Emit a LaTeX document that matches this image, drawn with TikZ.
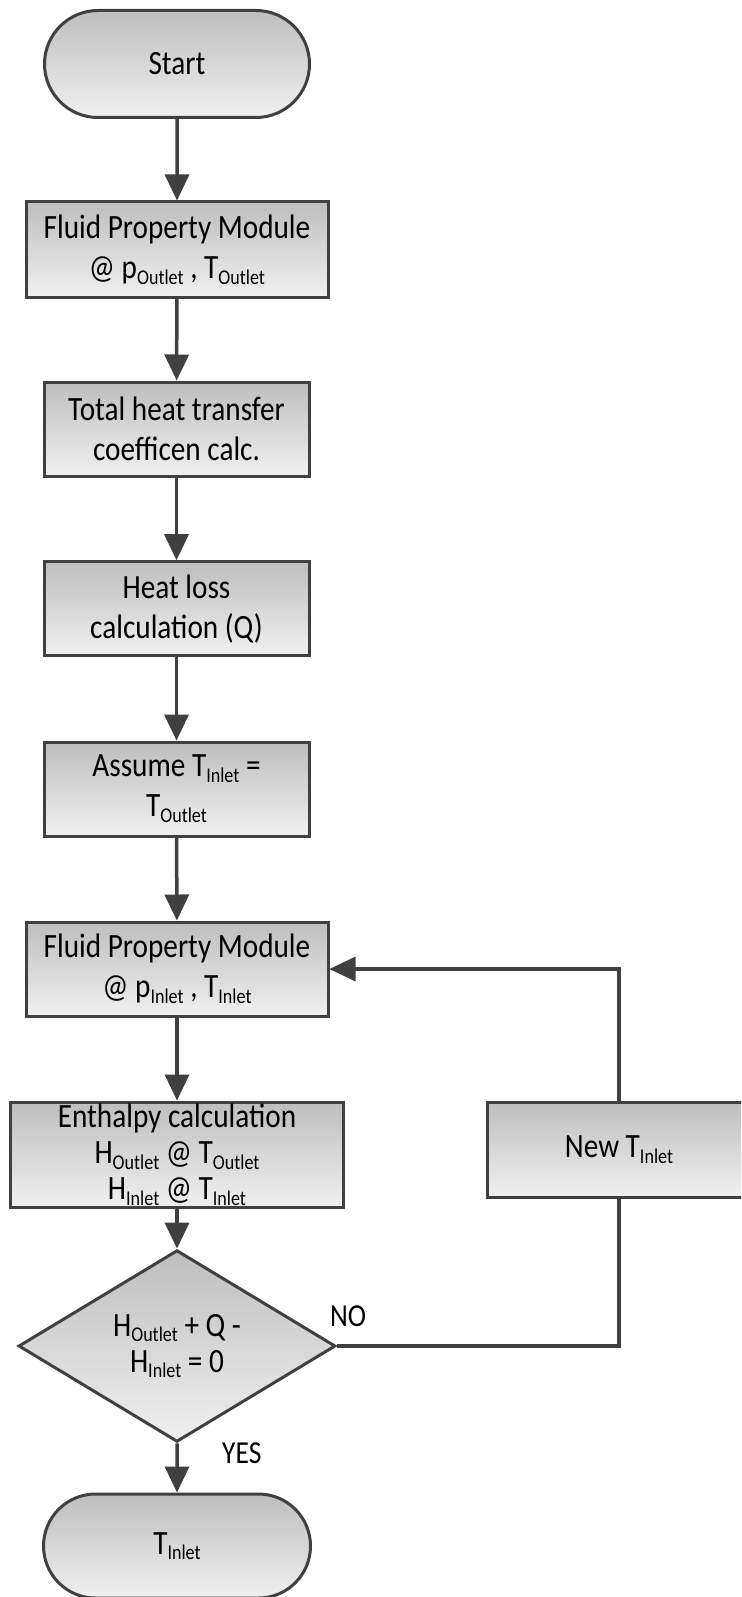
\documentclass[tikz,border=0pt]{standalone}
\usepackage{fontspec}
\setmainfont{Carlito}[FakeStretch=0.86]
\usetikzlibrary{arrows.meta,shapes.geometric,shapes.misc}
\definecolor{edgec}{HTML}{404040}
\definecolor{topg}{HTML}{BEBEBE}
\definecolor{botg}{HTML}{F0F0F0}
\newcommand{\sbx}[1]{\raisebox{-0.35ex}{\fontsize{21}{21}\selectfont #1}}
\tikzset{
  box/.style={draw=edgec, line width=3pt, top color=topg, bottom color=botg,
    align=center, inner sep=0pt, font=\fontsize{34}{40}\selectfont},
  term/.style={box, rounded rectangle},
  decision/.style={box, diamond},
  txt/.style={inner sep=0pt, font=\fontsize{34}{40}\selectfont},
  conn/.style={draw=edgec, line width=3.5pt, -{Triangle[length=26pt,width=24pt]}},
  plain/.style={draw=edgec, line width=3.5pt},
  lbl/.style={font=\fontsize{32}{36}\selectfont, inner sep=0pt}
}
\begin{document}
\begin{tikzpicture}[x=1pt,y=-1pt]
\useasboundingbox (0,0) rectangle (741,1597);
\clip (0,0) rectangle (741,1597);
\fill[white] (0,0) rectangle (741,1597);
\node[term, minimum width=265pt, minimum height=107pt] (start) at (177,64) {Start};
\node[box, minimum width=302pt, minimum height=95pt] (b1) at (177,249.5) {Fluid Property Module\\@ p\sbx{Outlet} , T\sbx{Outlet}};
\node[box, minimum width=265pt, minimum height=94pt] (b2) at (176.5,429) {Total heat transfer\\coefficen calc.};
\node[box, minimum width=265pt, minimum height=94pt] (b3) at (176.5,608.7) {Heat loss\\calculation (Q)};
\node[box, minimum width=265pt, minimum height=94pt] (b4) at (176.5,789) {Assume T\sbx{Inlet} =\\T\sbx{Outlet}};
\node[box, minimum width=302pt, minimum height=94pt] (b5) at (177,969) {Fluid Property Module\\@ p\sbx{Inlet} , T\sbx{Inlet}};
\node[box, minimum width=333pt, minimum height=105pt, font=\fontsize{34}{36}\selectfont] (b6) at (177,1154.5) {Enthalpy calculation\\H\sbx{Outlet} @ T\sbx{Outlet}\\H\sbx{Inlet} @ T\sbx{Inlet}};
\node[box, minimum width=330pt, minimum height=95pt] (newt) at (652,1149.5) {};
\coordinate (loop) at (619,1149.5);
\node[txt] (newttxt) at (loop) {New T\sbx{Inlet}};
\node[decision, minimum width=317pt, minimum height=190pt, font=\fontsize{34}{36}\selectfont] (dec) at (177,1346) {H\sbx{Outlet} + Q -\\H\sbx{Inlet} = 0};
\node[term, minimum width=267pt, minimum height=104pt] (end) at (177,1546) {T\sbx{Inlet}};
\node[lbl, anchor=west] (no) at (330,1316) {NO};
\node[lbl, anchor=west] (yes) at (222,1453) {YES};
\draw[conn] (start) -- (b1);
\draw[conn] (b1) -- (b2);
\draw[conn] (b2) -- (b3);
\draw[conn] (b3) -- (b4);
\draw[conn] (b4) -- (b5);
\draw[conn] (b5) -- (b6);
\draw[conn] (b6) -- (dec);
\draw[conn] (dec.south) -- (end);
\draw[plain] (dec.east) -- (dec.east -| loop) -- (loop |- newt.south);
\draw[conn] (loop |- newt.north) -- (loop |- b5.east) -- (b5.east);
\end{tikzpicture}
\end{document}
